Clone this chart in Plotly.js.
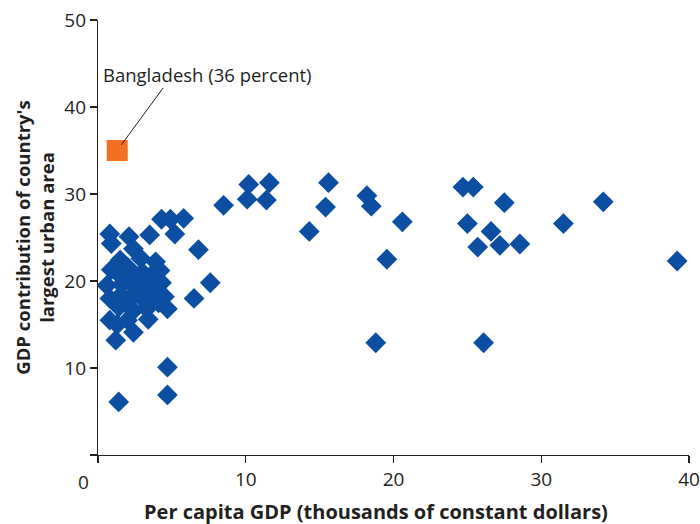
<!DOCTYPE html>
<html>
<head>
<meta charset="utf-8">
<script src="https://cdn.plot.ly/plotly-3.0.1.min.js"></script>
<style>html,body{margin:0;padding:0;background:#fff}</style>
</head>
<body>
<div id="chart" style="width:700px;height:524px"></div>
<script>
// Per capita GDP (thousands of constant dollars)
var countryGDP = [0.8,0.9,2.1,2.4,3.5,4.3,4.9,5.2,5.8,3.9,6.8,7.6,6.5,4.7,4.7,1.4,1.2,2.4,4.7,0.8,0.8,0.6,0.9,
  1.5,1.4,1.6,1.5,1.4,1.3,2.0,2.3,2.6,2.2,2.4,2.0,2.9,3.0,3.2,3.0,3.3,3.4,3.8,3.9,3.7,4.1,4.3,4.2,4.5,2.8,1.9,
  8.5,10.2,11.6,10.1,11.4,15.6,15.4,14.3,18.2,18.5,20.6,19.55,18.8,24.7,25.4,27.5,25.0,26.6,25.7,27.2,28.55,31.5,34.2,39.2,26.1];
// GDP contribution of country's largest urban area (percent)
var countryShare = [25.4,24.3,25.1,23.7,25.3,27.1,27.1,25.4,27.2,22.2,23.6,19.8,18.0,10.1,6.9,6.1,13.2,14.1,16.8,15.5,18.0,19.5,21.3,
  22.4,20.8,19.6,18.3,17.0,15.0,21.6,20.4,19.2,18.2,16.6,15.5,22.6,21.0,19.7,18.0,16.8,15.6,21.0,19.5,18.3,17.5,19.8,21.2,18.2,20.2,17.4,
  28.7,31.1,31.3,29.4,29.3,31.3,28.5,25.7,29.8,28.6,26.8,22.5,12.9,30.8,30.8,29.0,26.6,25.7,23.9,24.1,24.25,26.6,29.1,22.3,12.9];
var bangladeshGDP = [1.3];
var bangladeshShare = [35.0];
var bangladeshLabel = 'Bangladesh (36 percent)';
var xTitle = 'Per capita GDP (thousands of constant dollars)';
var yTitle = "GDP contribution of country's<br>largest urban area";
var xTicks = [0,10,20,30,40];
var xTickText = ['','10','20','30','40'];
var yTicks = [0,10,20,30,40,50];
var yTickText = ['','10','20','30','40','50'];

var axisColor = '#231f20';
var fontFam = 'Open Sans, Noto Sans, sans-serif';

var traces = [
  {x: countryGDP, y: countryShare, type: 'scatter', mode: 'markers',
   marker: {symbol: 'diamond', size: 16, color: '#0b4ea2', line: {width: 0}}, hoverinfo: 'x+y'},
  {x: bangladeshGDP, y: bangladeshShare, type: 'scatter', mode: 'markers',
   marker: {symbol: 'square', size: 21, color: '#f36f21', line: {width: 0}}, hoverinfo: 'x+y'}
];

var layout = {
  width: 700, height: 524,
  margin: {l: 98, r: 11, t: 20, b: 69, pad: 0},
  showlegend: false,
  paper_bgcolor: '#fff', plot_bgcolor: '#fff',
  font: {family: fontFam, size: 19, color: axisColor},
  xaxis: {
    range: [0, 40], showgrid: false, zeroline: false, showline: true,
    linecolor: axisColor, linewidth: 1.2, ticks: 'outside', ticklen: 7, tickwidth: 1.2, tickcolor: axisColor,
    tickmode: 'array', tickvals: xTicks, ticktext: xTickText,
    tickfont: {family: fontFam, size: 19, color: axisColor},
    automargin: false
  },
  yaxis: {
    range: [0, 50], showgrid: false, zeroline: false, showline: true,
    linecolor: axisColor, linewidth: 1.2, ticks: 'outside', ticklen: 7, tickwidth: 1.2, tickcolor: axisColor,
    tickmode: 'array', tickvals: yTicks, ticktext: yTickText,
    tickfont: {family: fontFam, size: 19, color: axisColor},
    title: {text: yTitle, standoff: 4,
            font: {family: fontFam, size: 18.5, color: axisColor, weight: 'bold'}},
    automargin: false
  },
  annotations: [
    {xref: 'paper', yref: 'paper', x: -0.024, y: -0.062, text: '0', showarrow: false,
     xanchor: 'center', yanchor: 'middle', font: {family: fontFam, size: 19, color: axisColor}},
    {xref: 'paper', yref: 'paper', x: 0.470, y: -0.131, text: xTitle, showarrow: false,
     xanchor: 'center', yanchor: 'middle', font: {family: fontFam, size: 20, color: axisColor, weight: 'bold'}},
    {xref: 'x', yref: 'y', x: 0.2, y: 43.7, text: bangladeshLabel, showarrow: false,
     xanchor: 'left', yanchor: 'middle', font: {family: fontFam, size: 18.5, color: axisColor}},
    {xref: 'x', yref: 'y', x: bangladeshGDP[0], y: bangladeshShare[0], text: '', showarrow: true,
     arrowhead: 0, arrowwidth: 1, arrowcolor: axisColor, ax: 47, ay: -64, standoff: 7}
  ]
};

Plotly.newPlot('chart', traces, layout, {staticPlot: true, displayModeBar: false});
</script>
</body>
</html>
